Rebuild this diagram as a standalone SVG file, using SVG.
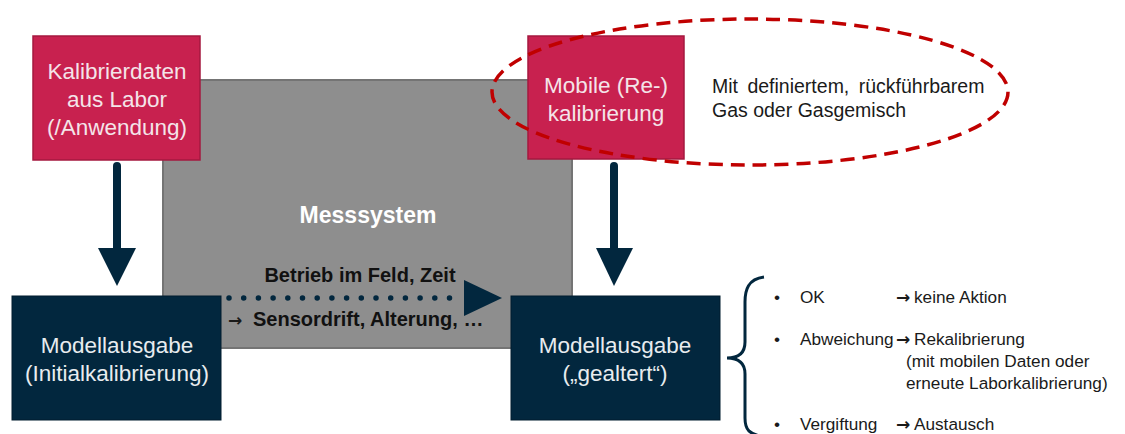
<svg xmlns="http://www.w3.org/2000/svg" width="1125" height="434" viewBox="0 0 1125 434">
  <style>
    .pink { fill: #C8214F; stroke: #A5183F; stroke-width: 1.5; }
    .navy { fill: #02273E; stroke: #011C2E; stroke-width: 1; }
    .sys { fill: #8E8E8E; stroke: #747474; stroke-width: 2; }
    .t { font-family: "Liberation Sans", Arial, sans-serif; }
    .box-w { font-size: 22.5px; fill: #F4E4E9; text-anchor: middle; }
    .box-n { font-size: 22.5px; fill: #E8ECEF; text-anchor: middle; }
    .list { font-size: 17.2px; fill: #1A1A1A; }
    .bold { font-weight: bold; }
    .arr { font-family: "DejaVu Sans", sans-serif; font-weight: bold; font-size: 17px; fill: #1A1A1A; }
  </style>

  <!-- measuring system block -->
  <g id="messsystem">
    <rect class="sys" x="163" y="80" width="409" height="268"/>
    <text class="t bold" x="368" y="223" font-size="23" fill="#FFFFFF" text-anchor="middle">Messsystem</text>
  </g>

  <g id="kalibrierdaten">
    <rect class="pink" x="33" y="36" width="167" height="124"/>
    <text class="t box-w" x="117" y="79">Kalibrierdaten</text>
    <text class="t box-w" x="117" y="107">aus Labor</text>
    <text class="t box-w" x="117" y="135">(/Anwendung)</text>
  </g>

  <g id="mobile">
    <rect class="pink" x="528" y="36" width="156" height="123"/>
    <text class="t box-w" x="606" y="93">Mobile (Re-)</text>
    <text class="t box-w" x="606" y="121">kalibrierung</text>
  </g>

  <g id="gas-hinweis">
    <ellipse cx="750" cy="92" rx="258" ry="73" fill="none" stroke="#C00000" stroke-width="3.5" stroke-dasharray="14 8"/>
    <text class="t" x="712" y="93" font-size="19.5" fill="#1A1A1A" word-spacing="4">Mit definiertem, rückführbarem</text>
    <text class="t" x="712" y="117" font-size="19.5" fill="#1A1A1A">Gas oder Gasgemisch</text>
  </g>

  <g id="modell-initial">
    <rect class="navy" x="12" y="296" width="209" height="124"/>
    <text class="t box-n" x="117" y="353">Modellausgabe</text>
    <text class="t box-n" x="117" y="381">(Initialkalibrierung)</text>
  </g>

  <g id="modell-gealtert">
    <rect class="navy" x="511" y="296" width="209" height="124"/>
    <text class="t box-n" x="615" y="353">Modellausgabe</text>
    <text class="t box-n" x="615" y="381">(„gealtert“)</text>
  </g>

  <!-- connectors -->
  <g id="connectors" fill="#02273E" stroke="#02273E">
    <line x1="117" y1="166" x2="117" y2="252" stroke-width="8" stroke-linecap="round"/>
    <polygon points="98,248 136,248 117,286" stroke="none"/>
    <line x1="614" y1="166" x2="614" y2="252" stroke-width="8" stroke-linecap="round"/>
    <polygon points="596,248 633,248 614,286" stroke="none"/>
    <line x1="229" y1="298" x2="462" y2="298" stroke-width="5.5" stroke-linecap="round" stroke-dasharray="0 14.7" fill="none"/>
    <polygon points="464,280 502,298 464,316" stroke="none"/>
    <path d="M764,277 C748,279 745,290 745,302 L745,342 C745,353 739,358 727,358 C739,358 745,363 745,374 L745,418 C745,430 749,434 764,437" fill="none" stroke-width="3"/>
  </g>

  <g id="drift-labels">
    <text class="t bold" x="360" y="282" font-size="20" fill="#111111" text-anchor="middle">Betrieb im Feld, Zeit</text>
    <text class="arr" x="228" y="326" font-size="19" fill="#111111">→</text>
    <text class="t bold" x="253" y="326" font-size="20" fill="#111111">Sensordrift, Alterung, …</text>
  </g>

  <g id="bewertung">
    <text class="t list" x="774" y="303">•</text>
    <text class="t list" x="800" y="303">OK</text>
    <text class="arr" x="896" y="303">→</text>
    <text class="t list" x="914" y="303">keine Aktion</text>
    <text class="t list" x="774" y="345">•</text>
    <text class="t list" x="800" y="345">Abweichung</text>
    <text class="arr" x="896" y="345">→</text>
    <text class="t list" x="914" y="345">Rekalibrierung</text>
    <text class="t list" x="906" y="367">(mit mobilen Daten oder</text>
    <text class="t list" x="906" y="389">erneute Laborkalibrierung)</text>
    <text class="t list" x="774" y="430">•</text>
    <text class="t list" x="800" y="430">Vergiftung</text>
    <text class="arr" x="896" y="430">→</text>
    <text class="t list" x="914" y="430">Austausch</text>
  </g>
</svg>
